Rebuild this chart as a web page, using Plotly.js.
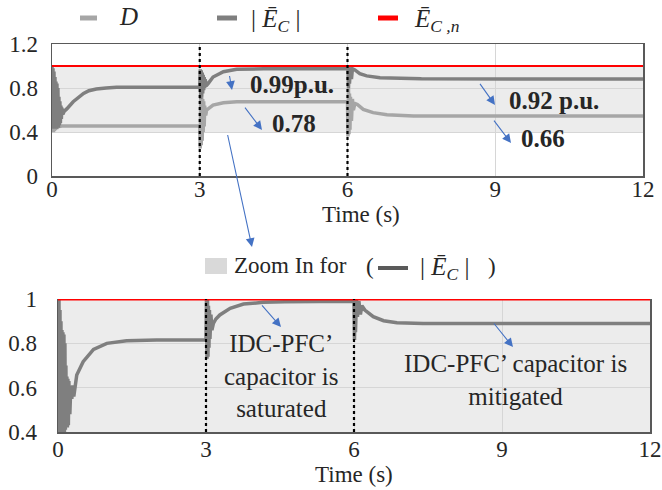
<!DOCTYPE html>
<html>
<head>
<meta charset="utf-8">
<script src="https://cdn.plot.ly/plotly-3.0.1.min.js"></script>
<style>html,body{margin:0;padding:0;background:#fff;}#chart{width:662px;height:490px;}</style>
</head>
<body>
<div id="chart"></div>
<script>
// ---------- data ----------
// Top panel: |E_C| (dark gray)
const topT_E = [0,0.01,0.02,0.03,0.04,0.05,0.06,0.07,0.08,0.09,0.10,0.11,0.12,0.13,0.14,0.15,0.16,0.17,0.18,0.19,0.20,0.22,0.25,0.30,0.43,0.55,0.64,0.75,0.90,1.10,1.31,1.60,2.00,3.00,
  3.01,3.02,3.03,3.04,3.05,3.06,3.07,3.08,3.09,3.10,3.11,3.13,3.17,3.27,3.48,3.75,4.30,6.00,
  6.01,6.02,6.03,6.04,6.06,6.08,6.10,6.15,6.25,6.39,6.66,7.00,7.50,12.0];
const topE = [1.00,0.43,0.98,0.44,0.95,0.43,0.90,0.44,0.86,0.43,0.84,0.45,0.80,0.44,0.72,0.46,0.68,0.48,0.64,0.52,0.62,0.56,0.59,0.61,0.675,0.72,0.75,0.775,0.79,0.80,0.806,0.806,0.806,0.806,
  0.97,0.70,0.96,0.72,0.94,0.75,0.92,0.78,0.90,0.80,0.88,0.82,0.84,0.90,0.948,0.97,0.975,0.975,
  0.99,0.80,0.99,0.84,0.98,0.88,0.975,0.964,0.93,0.91,0.894,0.888,0.883,0.882];
// Top panel: D (light gray)
const topT_D = [0,0.01,0.02,0.03,0.04,0.05,0.06,0.07,0.08,0.10,0.12,0.15,0.20,3.00,
  3.01,3.02,3.03,3.04,3.05,3.06,3.07,3.08,3.09,3.10,3.12,3.14,3.17,3.27,3.48,3.75,6.00,
  6.01,6.02,6.03,6.04,6.05,6.06,6.08,6.10,6.12,6.15,6.20,6.32,6.52,6.80,7.34,12.0];
const topD = [0.45,0.40,0.47,0.40,0.46,0.41,0.46,0.42,0.455,0.43,0.455,0.45,0.455,0.455,
  0.25,0.75,0.28,0.72,0.32,0.70,0.40,0.68,0.45,0.64,0.55,0.60,0.61,0.645,0.665,0.675,0.675,
  0.36,0.80,0.38,0.75,0.42,0.72,0.50,0.70,0.60,0.66,0.65,0.606,0.576,0.557,0.545,0.545];
// Bottom panel (zoom): |E_C|
const botT_E = [0,0.01,0.02,0.03,0.04,0.05,0.06,0.07,0.08,0.09,0.10,0.11,0.12,0.13,0.14,0.15,0.16,0.17,0.18,0.19,0.20,0.21,0.22,0.24,0.26,0.28,0.30,0.32,0.35,0.38,0.51,0.72,0.99,1.39,2.00,3.00,
  3.01,3.02,3.03,3.04,3.05,3.06,3.07,3.08,3.10,3.12,3.15,3.20,3.28,3.49,3.76,4.16,4.60,6.00,
  6.01,6.02,6.03,6.05,6.07,6.10,6.13,6.16,6.22,6.39,6.60,6.87,7.40,12.0];
const botE = [1.00,0.40,1.00,0.40,0.95,0.40,0.90,0.40,0.86,0.40,0.85,0.40,0.84,0.40,0.80,0.41,0.70,0.42,0.65,0.42,0.64,0.43,0.63,0.48,0.61,0.55,0.61,0.56,0.62,0.657,0.717,0.773,0.80,0.812,0.815,0.815,
  1.00,0.73,1.00,0.74,0.97,0.78,0.95,0.82,0.93,0.86,0.89,0.91,0.928,0.958,0.977,0.985,0.988,0.99,
  0.815,1.00,0.85,1.00,0.92,0.99,0.93,0.97,0.95,0.92,0.902,0.893,0.89,0.89];
// Reference level and time span
const refT = [0, 12];
const refLevel = [1.0, 1.0];
const eventTimes = [3, 6];
const zoomBand = [0.4, 1.0];
const xTicks = [0, 3, 6, 9, 12];
const topYTicks = [0, 0.4, 0.8, 1.2];
const botYTicks = [0.4, 0.6, 0.8, 1];

// ---------- layout helpers ----------
const W = 662, H = 490;
const px = x => x / W;
const py = y => 1 - y / H;
const SERIF = '"Liberation Serif", "Times New Roman", Times, serif';
const TXT = '#262626';
const CD = '#a6a6a6', CE = '#7f7f7f', CR = '#ff0000';

const traces = [
  {x: topT_D, y: topD, xaxis: 'x', yaxis: 'y', mode: 'lines', line: {color: CD, width: 3.5}, hoverinfo: 'skip'},
  {x: topT_E, y: topE, xaxis: 'x', yaxis: 'y', mode: 'lines', line: {color: CE, width: 3.5}, hoverinfo: 'skip'},
  {x: refT, y: refLevel, xaxis: 'x', yaxis: 'y', mode: 'lines', line: {color: CR, width: 2}, hoverinfo: 'skip'},
  {x: botT_E, y: botE, xaxis: 'x2', yaxis: 'y2', mode: 'lines', line: {color: CE, width: 3.5}, hoverinfo: 'skip'},
  {x: refT, y: refLevel, xaxis: 'x2', yaxis: 'y2', mode: 'lines', line: {color: CR, width: 3}, hoverinfo: 'skip'}
];

const axCommon = {
  showgrid: true, gridcolor: '#d6d6d6', gridwidth: 1, zeroline: false,
  showline: true, linecolor: '#595959', linewidth: 1.5, ticks: '',
  tickfont: {family: SERIF, size: 23, color: TXT}
};

const shapes = [
  {type: 'rect', xref: 'x', yref: 'y', x0: refT[0], x1: refT[1], y0: zoomBand[0], y1: zoomBand[1],
   fillcolor: '#ececec', line: {width: 0}, layer: 'below'},
  {type: 'rect', xref: 'x2 domain', yref: 'y2 domain', x0: 0, x1: 1, y0: 0, y1: 1,
   fillcolor: '#ececec', line: {width: 0}, layer: 'below'}
];
eventTimes.forEach(t => {
  shapes.push({type: 'line', xref: 'x', yref: 'y domain', x0: t, x1: t, y0: 0, y1: 1,
    line: {color: '#000', width: 2.2, dash: 'dot'}});
  shapes.push({type: 'line', xref: 'x2', yref: 'y2 domain', x0: t, x1: t, y0: 0, y1: 1,
    line: {color: '#000', width: 2.2, dash: 'dot'}});
});
// custom legend lines
shapes.push({type: 'line', xref: 'paper', yref: 'paper', x0: px(80), x1: px(97), y0: py(18), y1: py(18), line: {color: CD, width: 5}});
shapes.push({type: 'line', xref: 'paper', yref: 'paper', x0: px(217), x1: px(237), y0: py(18), y1: py(18), line: {color: CE, width: 5}});
shapes.push({type: 'line', xref: 'paper', yref: 'paper', x0: px(378), x1: px(398), y0: py(18), y1: py(18), line: {color: CR, width: 5}});
shapes.push({type: 'rect', xref: 'paper', yref: 'paper', x0: px(205), x1: px(227), y0: py(274), y1: py(258), fillcolor: '#d9d9d9', line: {width: 0}});
shapes.push({type: 'line', xref: 'paper', yref: 'paper', x0: px(378), x1: px(408), y0: py(268), y1: py(268), line: {color: '#5a5a5a', width: 4}});

const ann = [];
function txt(text, x, y, size, xanchor, extra) {
  ann.push(Object.assign({text: text, xref: 'paper', yref: 'paper', x: px(x), y: py(y),
    xanchor: xanchor || 'center', yanchor: 'middle', showarrow: false,
    font: {family: SERIF, size: size, color: TXT}}, extra || {}));
}
function arrow(tx, ty, hx, hy) {
  ann.push({text: ' ', xref: 'paper', yref: 'paper', x: px(hx), y: py(hy),
    ax: tx - hx, ay: ty - hy, showarrow: true, arrowhead: 2, arrowsize: 1.6,
    arrowwidth: 1.1, arrowcolor: '#4472c4', font: {size: 2}});
}
// legend texts
txt('<i>D</i>', 117, 17, 25, 'left');
txt('| <i>Ē</i><sub><i>C</i></sub> |', 249, 20, 25, 'left');
txt('<i>Ē</i><sub><i>C ,n</i></sub>', 412, 20, 25, 'left');
txt('Zoom In for', 232, 265, 23, 'left');
txt('(', 364, 266, 23, 'left');
txt('| <i>Ē</i><sub><i>C</i></sub> |', 418, 268, 25, 'left');
txt(')', 486, 266, 23, 'left');
// axis titles
txt('Time (s)', 361, 215, 23);
txt('Time (s)', 354, 474, 23);
// value labels
txt('<b>0.99p.u.</b>', 292, 84, 25);
txt('<b>0.78</b>', 294, 124, 25);
txt('<b>0.92 p.u.</b>', 554, 100, 25);
txt('<b>0.66</b>', 543, 138, 25);
// bottom notes
txt('IDC-PFC’<br>capacitor is<br>saturated', 281, 376, 25);
txt('IDC-PFC’ capacitor is<br>mitigated', 515, 380, 25);
// arrows
arrow(229, 73, 232, 90);
arrow(243, 105, 262, 130);
arrow(227, 132, 252, 247);
arrow(478, 81, 495, 105);
arrow(492, 118, 511, 143);
arrow(260, 303, 281, 327);
arrow(492, 321, 513, 347);

const layout = {
  width: W, height: H,
  margin: {l: 0, r: 0, t: 0, b: 0},
  paper_bgcolor: '#fff', plot_bgcolor: '#fff',
  showlegend: false,
  xaxis: Object.assign({}, axCommon, {domain: [px(52), px(643)], anchor: 'y', range: [0, 12],
    tickvals: xTicks, mirror: true, ticklabelstandoff: -8}),
  yaxis: Object.assign({}, axCommon, {domain: [py(176), py(44)], anchor: 'x', range: [0, 1.2],
    tickvals: topYTicks, mirror: true, ticklabelstandoff: 8}),
  xaxis2: Object.assign({}, axCommon, {domain: [px(58), px(650)], anchor: 'y2', range: [0, 12],
    tickvals: xTicks, mirror: false, ticklabelstandoff: -4}),
  yaxis2: Object.assign({}, axCommon, {domain: [py(432), py(299)], anchor: 'x2', range: [0.4, 1],
    tickvals: botYTicks, mirror: true, ticklabelstandoff: 15}),
  shapes: shapes,
  annotations: ann
};

Plotly.newPlot('chart', traces, layout, {displayModeBar: false, staticPlot: true});
</script>
</body>
</html>
